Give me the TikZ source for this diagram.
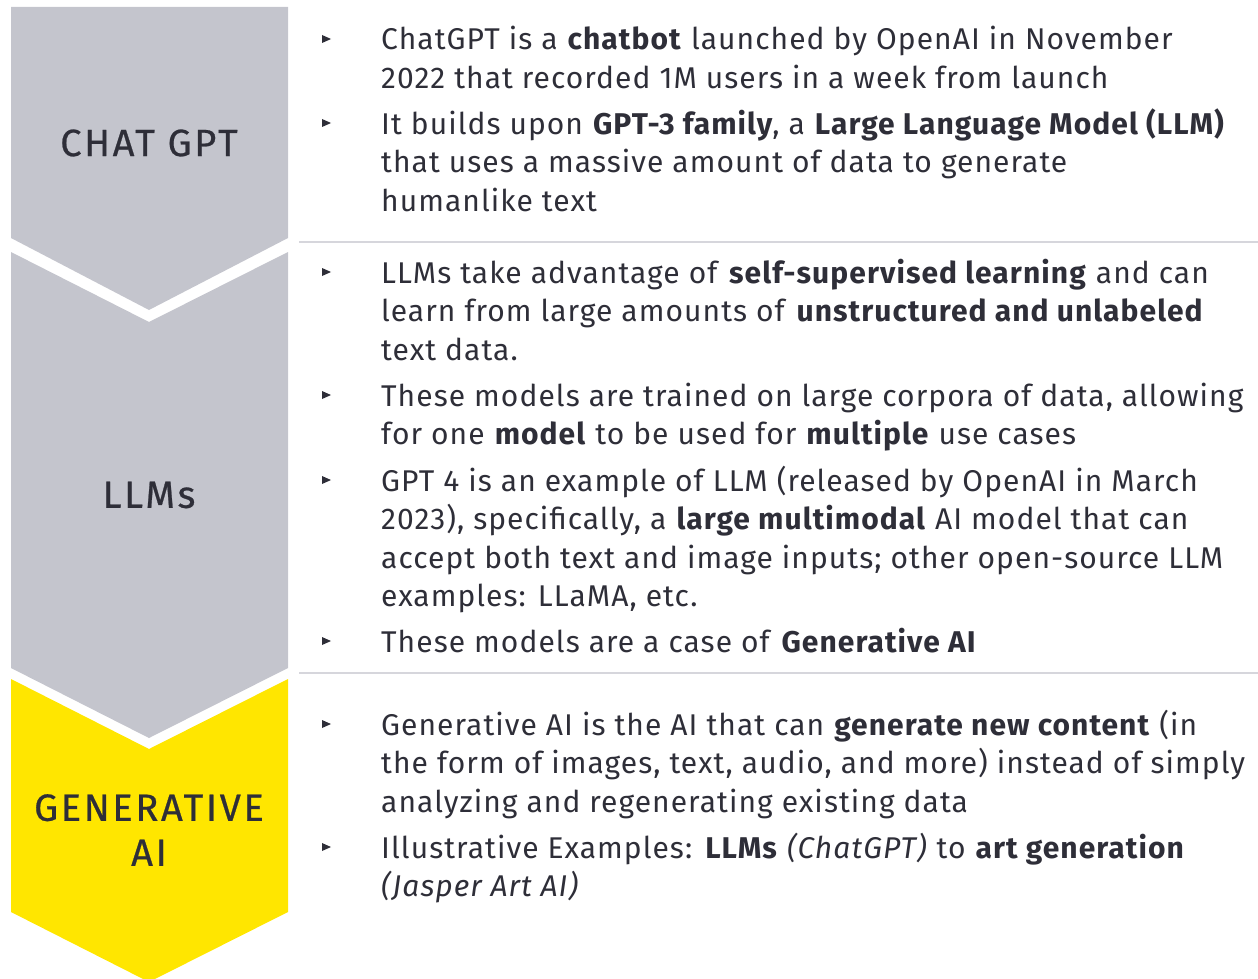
\documentclass[tikz,border=0pt]{standalone}
\usepackage{fontspec}
\setmainfont{Fira Sans}[LetterSpace=3.5]
\newfontfamily\tagfont{Fira Sans}[LetterSpace=7, FakeBold=0.6]
\definecolor{chevgray}{HTML}{C4C5CD}
\definecolor{eyyellow}{HTML}{FFE600}
\definecolor{inktext}{HTML}{2E2E38}
\definecolor{ruleline}{HTML}{D6D6DC}

\begin{document}
\begin{tikzpicture}[x=1pt, y=-1pt,
        tag/.style={text=inktext, align=center, font=\tagfont\fontsize{38}{45}\selectfont},
        item/.style={anchor=base west, inner sep=0pt, align=left, text=inktext, font=\fontsize{30}{38.5}\selectfont},
        sepline/.style={draw=ruleline, line width=1.5pt}]
        \useasboundingbox (0,0) rectangle (1258,979);

        % Chevrons
        \fill[chevgray] (11,7) -- (288,7) -- (288,238) -- (149,310) -- (11,238) -- cycle;
        \fill[chevgray] (11,252) -- (149,322) -- (288,252) -- (288,668) -- (149,738) -- (11,668) -- cycle;
        \fill[eyyellow] (11,679) -- (149,749) -- (288,679) -- (288,912) -- (149,982) -- (11,912) -- cycle;

        % Nodes (placed at the baseline of their last line)
        \node (chat) [tag] at (149,143) {CHAT GPT};
        \node (llms) [tag] at (149,495) {LLMs};
        \node (genai) [tag] at (149,830) {GENERATIVE\\AI};

        \node (chat1) [item] at (381,88.5) {ChatGPT is a \textbf{chatbot} launched by OpenAI in November\\2022 that recorded 1M users in a week from launch};
        \node (chat2) [item] at (381,211) {It builds upon \textbf{GPT-3 family}, a \textbf{Large Language Model (LLM)}\\that uses a massive amount of data to generate\\humanlike text};
        \node (llm1) [item] at (381,360) {LLMs take advantage of \textbf{self-supervised learning} and can\\learn from large amounts of \textbf{unstructured and unlabeled}\\text data.};
        \node (llm2) [item] at (381,444.5) {These models are trained on large corpora of data, allowing\\for one \textbf{model} to be used for \textbf{multiple} use cases};
        \node (llm3) [item] at (381,606.5) {GPT 4 is an example of LLM (released by OpenAI in March\\2023), specifically, a \textbf{large multimodal} AI model that can\\accept both text and image inputs; other open-source LLM\\examples: LLaMA, etc.};
        \node (llm4) [item] at (381,652) {These models are a case of \textbf{Generative AI}};
        \node (gen1) [item] at (381,812) {Generative AI is the AI that can \textbf{generate new content} (in\\the form of images, text, audio, and more) instead of simply\\analyzing and regenerating existing data};
        \node (gen2) [item] at (381,896.5) {Illustrative Examples: \textbf{LLMs} \textit{(ChatGPT)} to \textbf{art generation}\\\textit{(Jasper Art AI)}};

        % Bullets (first baselines)
        \foreach \y in {50,134,283,406,491,652,735,858}
            \fill[inktext] (322,\y-15) -- (331,\y-11) -- (322,\y-7) -- cycle;

        % Rules
        \draw[sepline] (299,242) -- (1258,242);
        \draw[sepline] (299,673) -- (1258,673);
    \end{tikzpicture}
\end{document}
